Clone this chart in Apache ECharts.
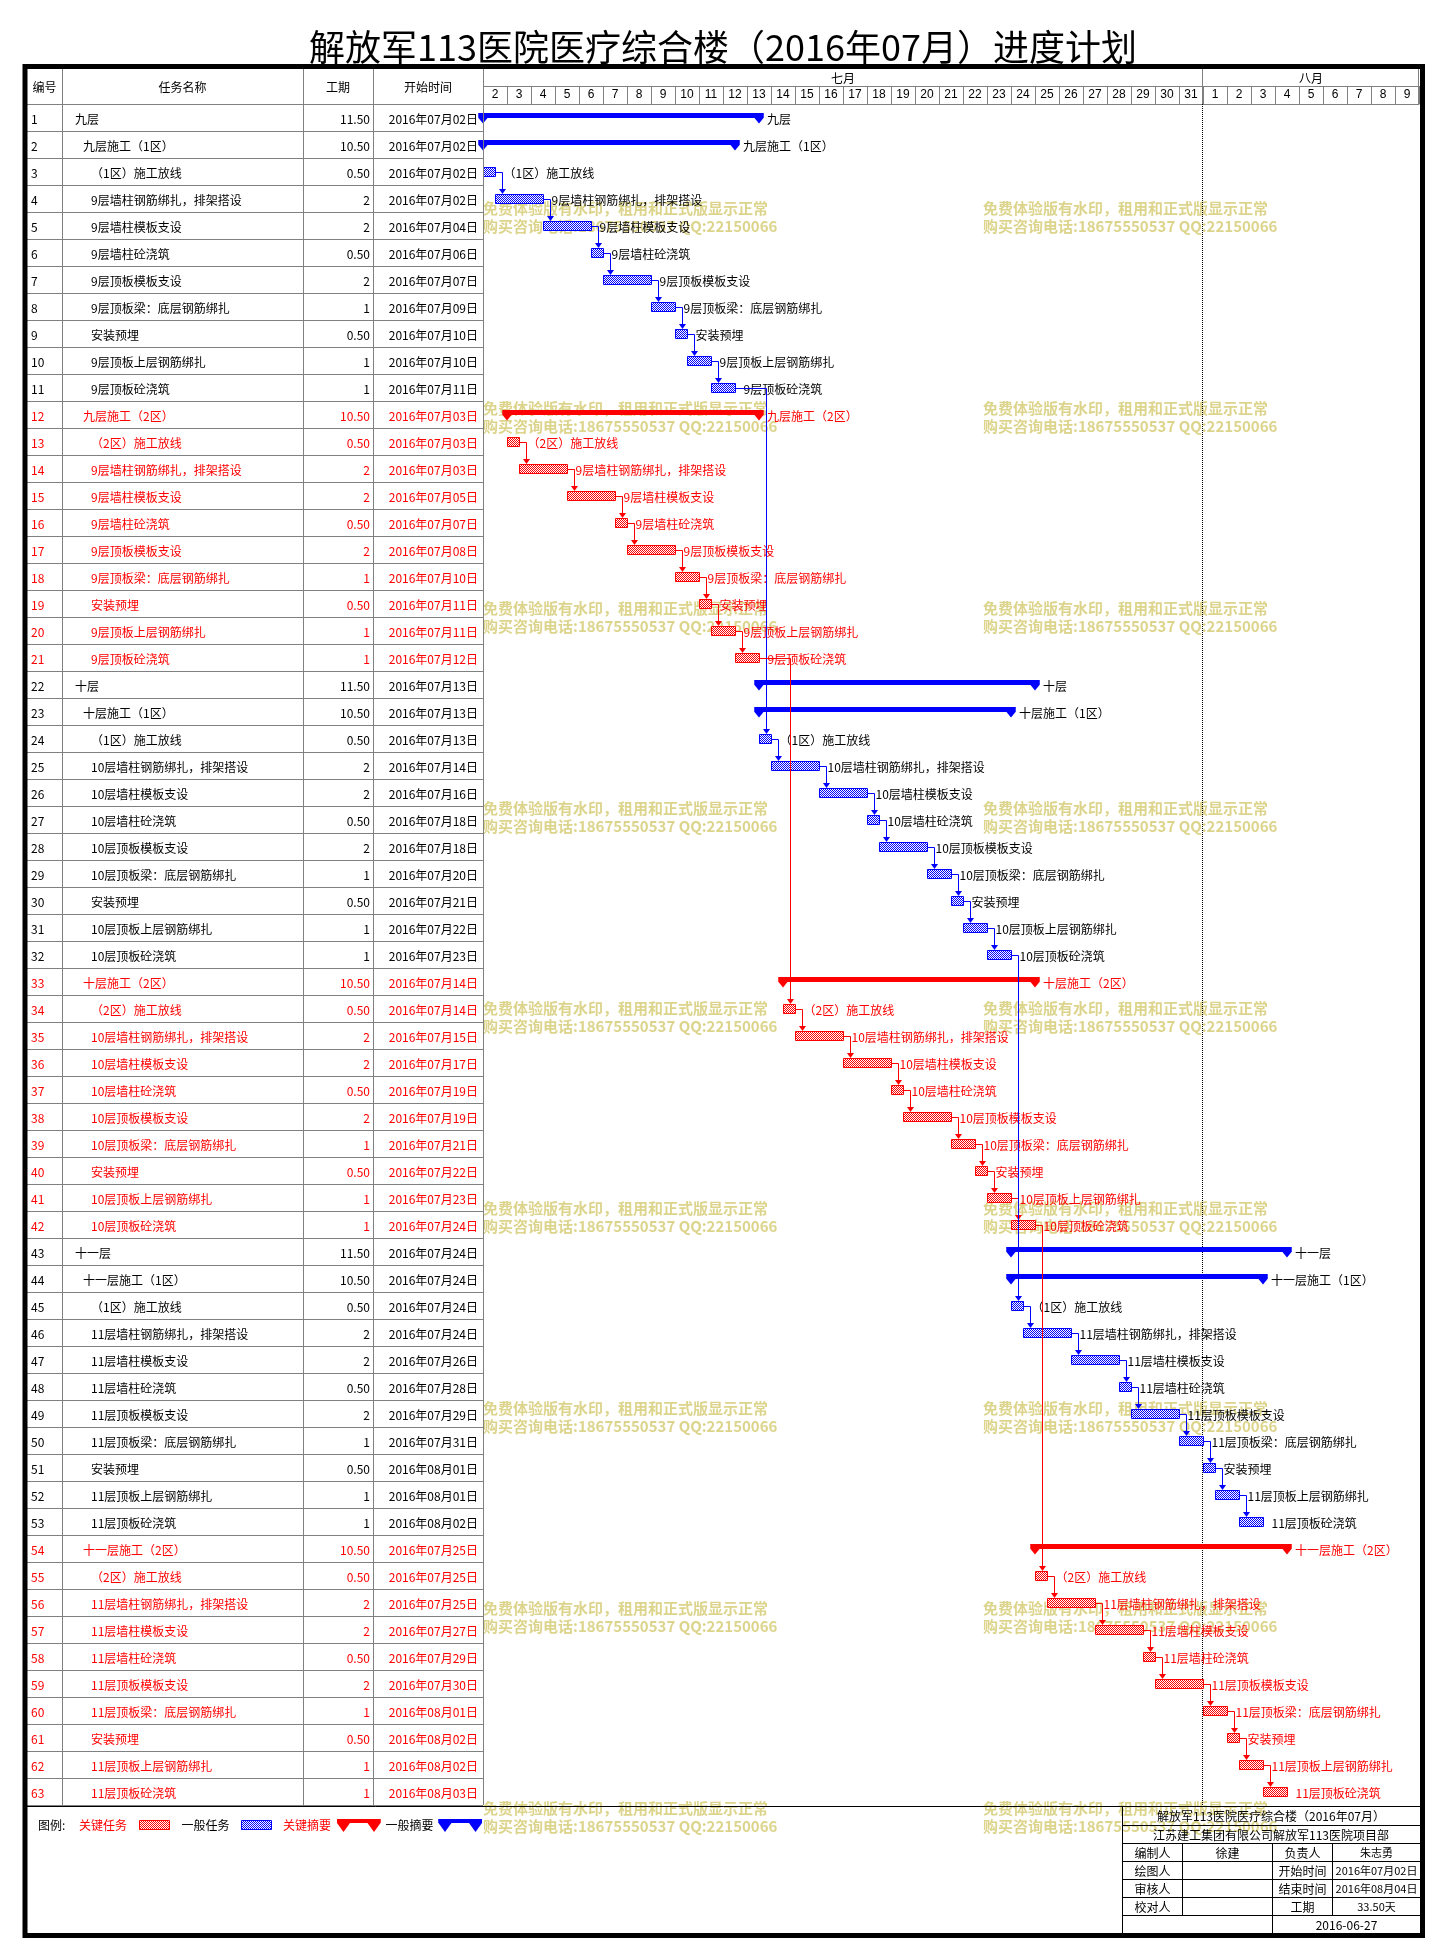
<!DOCTYPE html>
<html><head><meta charset="utf-8">
<script src="https://cdn.jsdelivr.net/npm/echarts@6/dist/echarts.min.js"></script>
<style>html,body{margin:0;padding:0;background:#fff}#c{width:1446px;height:1960px}</style>
</head><body><div id="c"></div>
<script>
// ---------------- DATA ----------------
const taskNames = [
'九层','九层施工（1区）','（1区）施工放线','9层墙柱钢筋绑扎，排架搭设','9层墙柱模板支设','9层墙柱砼浇筑','9层顶板模板支设','9层顶板梁：底层钢筋绑扎','安装预埋','9层顶板上层钢筋绑扎','9层顶板砼浇筑',
'九层施工（2区）','（2区）施工放线','9层墙柱钢筋绑扎，排架搭设','9层墙柱模板支设','9层墙柱砼浇筑','9层顶板模板支设','9层顶板梁：底层钢筋绑扎','安装预埋','9层顶板上层钢筋绑扎','9层顶板砼浇筑',
'十层','十层施工（1区）','（1区）施工放线','10层墙柱钢筋绑扎，排架搭设','10层墙柱模板支设','10层墙柱砼浇筑','10层顶板模板支设','10层顶板梁：底层钢筋绑扎','安装预埋','10层顶板上层钢筋绑扎','10层顶板砼浇筑',
'十层施工（2区）','（2区）施工放线','10层墙柱钢筋绑扎，排架搭设','10层墙柱模板支设','10层墙柱砼浇筑','10层顶板模板支设','10层顶板梁：底层钢筋绑扎','安装预埋','10层顶板上层钢筋绑扎','10层顶板砼浇筑',
'十一层','十一层施工（1区）','（1区）施工放线','11层墙柱钢筋绑扎，排架搭设','11层墙柱模板支设','11层墙柱砼浇筑','11层顶板模板支设','11层顶板梁：底层钢筋绑扎','安装预埋','11层顶板上层钢筋绑扎','11层顶板砼浇筑',
'十一层施工（2区）','（2区）施工放线','11层墙柱钢筋绑扎，排架搭设','11层墙柱模板支设','11层墙柱砼浇筑','11层顶板模板支设','11层顶板梁：底层钢筋绑扎','安装预埋','11层顶板上层钢筋绑扎','11层顶板砼浇筑'
];
// 1 = floor summary, 2 = zone summary, 3 = task
const indentLevels = [
1,2,3,3,3,3,3,3,3,3,3,
2,3,3,3,3,3,3,3,3,3,
1,2,3,3,3,3,3,3,3,3,3,
2,3,3,3,3,3,3,3,3,3,
1,2,3,3,3,3,3,3,3,3,3,
2,3,3,3,3,3,3,3,3,3
];
const durations = [
11.5,10.5,0.5,2,2,0.5,2,1,0.5,1,1,
10.5,0.5,2,2,0.5,2,1,0.5,1,1,
11.5,10.5,0.5,2,2,0.5,2,1,0.5,1,1,
10.5,0.5,2,2,0.5,2,1,0.5,1,1,
11.5,10.5,0.5,2,2,0.5,2,1,0.5,1,1,
10.5,0.5,2,2,0.5,2,1,0.5,1,1
];
const durationLabels = durations.map(d => Number.isInteger(d) ? String(d) : d.toFixed(2));
const startDates = [
'2016年07月02日','2016年07月02日','2016年07月02日','2016年07月02日','2016年07月04日','2016年07月06日','2016年07月07日','2016年07月09日','2016年07月10日','2016年07月10日','2016年07月11日',
'2016年07月03日','2016年07月03日','2016年07月03日','2016年07月05日','2016年07月07日','2016年07月08日','2016年07月10日','2016年07月11日','2016年07月11日','2016年07月12日',
'2016年07月13日','2016年07月13日','2016年07月13日','2016年07月14日','2016年07月16日','2016年07月18日','2016年07月18日','2016年07月20日','2016年07月21日','2016年07月22日','2016年07月23日',
'2016年07月14日','2016年07月14日','2016年07月15日','2016年07月17日','2016年07月19日','2016年07月19日','2016年07月21日','2016年07月22日','2016年07月23日','2016年07月24日',
'2016年07月24日','2016年07月24日','2016年07月24日','2016年07月24日','2016年07月26日','2016年07月28日','2016年07月29日','2016年07月31日','2016年08月01日','2016年08月01日','2016年08月02日',
'2016年07月25日','2016年07月25日','2016年07月25日','2016年07月27日','2016年07月29日','2016年07月30日','2016年08月01日','2016年08月02日','2016年08月02日','2016年08月03日'
];
// start, in days after 2016-07-02 00:00
const startOffsets = [
0,0,0,0.5,2.5,4.5,5,7,8,8.5,9.5,
1,1,1.5,3.5,5.5,6,8,9,9.5,10.5,
11.5,11.5,11.5,12,14,16,16.5,18.5,19.5,20,21,
12.5,12.5,13,15,17,17.5,19.5,20.5,21,22,
22,22,22,22.5,24.5,26.5,27,29,30,30.5,31.5,
23,23,23.5,25.5,27.5,28,30,31,31.5,32.5
];
const isCritical = [
0,0,0,0,0,0,0,0,0,0,0,
1,1,1,1,1,1,1,1,1,1,
0,0,0,0,0,0,0,0,0,0,0,
1,1,1,1,1,1,1,1,1,1,
0,0,0,0,0,0,0,0,0,0,0,
1,1,1,1,1,1,1,1,1,1
];
// predecessor row number (1-based), 0 = none
const predecessors = [
0,0,0,3,4,5,6,7,8,9,10,
0,0,13,14,15,16,17,18,19,20,
0,0,11,24,25,26,27,28,29,30,31,
0,21,34,35,36,37,38,39,40,41,
0,0,32,45,46,47,48,49,50,51,52,
0,42,55,56,57,58,59,60,61,62
];
const dayLabels = ['2','3','4','5','6','7','8','9','10','11','12','13','14','15','16','17','18','19','20','21','22','23','24','25','26','27','28','29','30','31','1','2','3','4','5','6','7','8','9'];
const monthNames = ['七月','八月'];
const monthStart = [0,30];
const monthEnd = [30,39];
const statusLineDay = 30;
const headerTitles = ['编号','任务名称','工期','开始时间'];
const legendNames = ['关键任务','一般任务','关键摘要','一般摘要'];
const infoTitle = '解放军113医院医疗综合楼（2016年07月）';
const infoCompany = '江苏建工集团有限公司解放军113医院项目部';
const infoRows = [['编制人','徐建','负责人','朱志勇'],['绘图人','','开始时间','2016年07月02日'],['审核人','','结束时间','2016年08月04日'],['校对人','','工期','33.50天']];
const infoDate = '2016-06-27';
const mainTitle = '解放军113医院医疗综合楼（2016年07月）进度计划';
const watermark1 = '免费体验版有水印，租用和正式版显示正常';
const watermark2 = '购买咨询电话:18675550537 QQ:22150066';

// ---------------- STYLE / LAYOUT ----------------
const FF = '"Noto Sans CJK SC","Noto Sans",sans-serif';
const F12 = '12px ' + FF;
const F11 = '11px ' + FF;
const RED = '#ff0000', BLUE = '#0000ff', GRAY = '#808080';
const G_LEFT = 483, G_TOP = 104, G_W = 936, G_H = 1701;
const TBL_LEFT = 27, HDR_TOP = 69, BODY_BOTTOM = 1805;

function makePattern(color) {
  const c = document.createElement('canvas');
  c.width = 2; c.height = 2;
  const ctx = c.getContext('2d');
  ctx.fillStyle = '#ffffff'; ctx.fillRect(0,0,2,2);
  ctx.fillStyle = color; ctx.fillRect(0,0,1,1); ctx.fillRect(1,1,1,1);
  return {image: c, repeat: 'repeat'};
}
const redPat = makePattern(RED), bluePat = makePattern(BLUE);

const rowIds = taskNames.map((_, i) => String(i + 1));
const ends = startOffsets.map((s, i) => s + durations[i]);

function rowsWhere(fn) {
  const out = [];
  for (let i = 0; i < taskNames.length; i++) if (fn(i)) out.push([startOffsets[i], ends[i], i, isCritical[i]]);
  return out;
}
const critTasks = rowsWhere(i => indentLevels[i] === 3 && isCritical[i]);
const normTasks = rowsWhere(i => indentLevels[i] === 3 && !isCritical[i]);
const critSums = rowsWhere(i => indentLevels[i] < 3 && isCritical[i]);
const normSums = rowsWhere(i => indentLevels[i] < 3 && !isCritical[i]);
const links = [];
predecessors.forEach((p, i) => { if (p) links.push([ends[p - 1], startOffsets[i], p - 1, i, isCritical[i]]); });

const px = v => Math.round(v) + 0.5;

function renderTask(params, api) {
  const idx = api.value(2), crit = api.value(3);
  const s = api.coord([api.value(0), idx]);
  const e = api.coord([api.value(1), idx]);
  const x0 = px(s[0]), x1 = px(e[0]), yc = Math.round(s[1]);
  return {type: 'group', children: [
    {type: 'rect', shape: {x: x0, y: yc - 4.5, width: x1 - x0, height: 9},
     style: {fill: crit ? redPat : bluePat, stroke: crit ? RED : BLUE, lineWidth: 1}},
    {type: 'text', style: {text: taskNames[idx], x: x1 + 8, y: yc + 1, fill: crit ? RED : '#000', font: F12, align: 'left', verticalAlign: 'middle'}}
  ]};
}
function summaryShape(x0, x1, yTop, barH, tipH, hw, color) {
  const bb = yTop + barH, tip = yTop + tipH;
  return [
    {type: 'rect', shape: {x: x0 - hw, y: yTop, width: x1 - x0 + 2 * hw, height: barH}, style: {fill: color}},
    {type: 'polygon', shape: {points: [[x0 - hw, yTop], [x0 + hw, yTop], [x0 + hw, bb], [x0, tip], [x0 - hw, bb]]}, style: {fill: color}},
    {type: 'polygon', shape: {points: [[x1 - hw, yTop], [x1 + hw, yTop], [x1 + hw, bb], [x1, tip], [x1 - hw, bb]]}, style: {fill: color}}
  ];
}
function renderSummary(params, api) {
  const idx = api.value(2), crit = api.value(3);
  const s = api.coord([api.value(0), idx]);
  const e = api.coord([api.value(1), idx]);
  const yc = Math.round(s[1]);
  const color = crit ? RED : BLUE;
  const kids = summaryShape(s[0], e[0], yc - 5, 5, 10.5, 4.5, color);
  kids.push({type: 'text', style: {text: taskNames[idx], x: e[0] + 8, y: yc + 1, fill: crit ? RED : '#000', font: F12, align: 'left', verticalAlign: 'middle'}});
  return {type: 'group', children: kids};
}
function renderLink(params, api) {
  const p = api.coord([api.value(0), api.value(2)]);
  const q = api.coord([api.value(1), api.value(3)]);
  const color = api.value(4) ? RED : BLUE;
  const dx = px(q[0] + 7);
  const py = px(p[1]);
  const tip = Math.round(q[1]) - 5;
  return {type: 'group', children: [
    {type: 'polyline', shape: {points: [[Math.round(p[0]), py], [dx, py], [dx, tip - 3]]}, style: {stroke: color, lineWidth: 1, fill: null}},
    {type: 'polygon', shape: {points: [[dx - 3.5, tip - 5], [dx + 3.5, tip - 5], [dx, tip]]}, style: {fill: color}}
  ]};
}
function renderStatusLine(params, api) {
  const x = px(api.coord([api.value(0), 0])[0]) - 1;
  const cs = params.coordSys;
  return {type: 'line', shape: {x1: x, y1: cs.y, x2: x, y2: cs.y + cs.height}, style: {stroke: '#000', lineWidth: 1, lineDash: [1, 1]}};
}
const TX = {id: 31, name0: 75, indent: 8, dur: 370, date: 478};
function renderTableRow(params, api) {
  const i = params.dataIndex;
  const c = api.coord([0, i]);
  const yc = Math.round(c[1]);
  const half = api.size([0, 1])[1] / 2;
  const col = isCritical[i] ? RED : '#000';
  const yb = px(c[1] + half);
  return {type: 'group', children: [
    {type: 'text', style: {text: rowIds[i], x: TX.id, y: yc + 1, fill: col, font: F12, align: 'left', verticalAlign: 'middle'}},
    {type: 'text', style: {text: taskNames[i], x: TX.name0 + TX.indent * (indentLevels[i] - 1), y: yc + 1, fill: col, font: F12, align: 'left', verticalAlign: 'middle'}},
    {type: 'text', style: {text: durationLabels[i], x: TX.dur, y: yc + 1, fill: col, font: F12, align: 'right', verticalAlign: 'middle'}},
    {type: 'text', style: {text: startDates[i], x: TX.date, y: yc + 1, fill: col, font: F12, align: 'right', verticalAlign: 'middle'}},
    {type: 'line', shape: {x1: TBL_LEFT, y1: yb, x2: params.coordSys.x, y2: yb}, style: {stroke: GRAY, lineWidth: 1}}
  ]};
}
function renderMonth(params, api) {
  const i = params.dataIndex;
  const x0 = api.coord([api.value(0), 0])[0];
  const x1 = api.coord([api.value(1), 0])[0];
  const top = params.coordSys.y;
  return {type: 'group', children: [
    {type: 'text', style: {text: monthNames[i], x: (x0 + x1) / 2, y: top - 26, fill: '#000', font: F12, align: 'center', verticalAlign: 'middle'}},
    {type: 'line', shape: {x1: x0, y1: top - 17.5, x2: x1, y2: top - 17.5}, style: {stroke: GRAY, lineWidth: 1}},
    {type: 'line', shape: {x1: px(x1) - 1, y1: HDR_TOP, x2: px(x1) - 1, y2: top}, style: {stroke: GRAY, lineWidth: 1}}
  ]};
}

// ---------------- GRAPHIC (frame, header, legend, info box, watermark) ----------------
const graphics = [];
for (let k = 0; k < 9; k++) {
  [483, 983].forEach(x => {
    graphics.push({type: 'text', z: 0, silent: true, style: {text: watermark1, x: x, y: 208 + 200 * k, fill: '#ddd48c', font: 'bold 15px ' + FF, align: 'left', verticalAlign: 'middle'}});
    graphics.push({type: 'text', z: 0, silent: true, style: {text: watermark2, x: x, y: 226 + 200 * k, fill: '#ddd48c', font: 'bold 15px ' + FF, align: 'left', verticalAlign: 'middle'}});
  });
}
const hdrX = [44.5, 182.5, 338, 428];
headerTitles.forEach((t, i) => graphics.push({type: 'text', z: 5, style: {text: t, x: hdrX[i], y: 87, fill: '#000', font: F12, align: 'center', verticalAlign: 'middle'}}));
[62.5, 303.5, 373.5, 483.5].forEach(x => graphics.push({type: 'line', z: 5, shape: {x1: x, y1: HDR_TOP, x2: x, y2: BODY_BOTTOM}, style: {stroke: GRAY, lineWidth: 1}}));
graphics.push({type: 'line', z: 5, shape: {x1: TBL_LEFT, y1: 104.5, x2: G_LEFT, y2: 104.5}, style: {stroke: GRAY, lineWidth: 1}});
graphics.push({type: 'line', z: 6, shape: {x1: TBL_LEFT, y1: 1806.5, x2: 1420, y2: 1806.5}, style: {stroke: '#000', lineWidth: 1}});
const LY = 1825;
graphics.push({type: 'text', z: 5, style: {text: '图例:', x: 38, y: LY, fill: '#000', font: F12, align: 'left', verticalAlign: 'middle'}});
const lgText = [79, 181.5, 283, 385.5];
const lgColor = [RED, '#000', RED, '#000'];
legendNames.forEach((n, i) => graphics.push({type: 'text', z: 5, style: {text: n, x: lgText[i], y: LY, fill: lgColor[i], font: F12, align: 'left', verticalAlign: 'middle'}}));
graphics.push({type: 'rect', z: 5, shape: {x: 139.5, y: 1820.5, width: 30, height: 9}, style: {fill: redPat, stroke: RED, lineWidth: 1}});
graphics.push({type: 'rect', z: 5, shape: {x: 241.5, y: 1820.5, width: 30, height: 9}, style: {fill: bluePat, stroke: BLUE, lineWidth: 1}});
summaryShape(343.5, 374, 1819, 4, 13, 6.5, RED).forEach(g => { g.z = 5; graphics.push(g); });
summaryShape(445, 475.5, 1819, 4, 13, 6.5, BLUE).forEach(g => { g.z = 5; graphics.push(g); });
const IB = {x0: 1122.5, x1: 1420, ys: [1806.5, 1825.5, 1843.5, 1861.5, 1879.5, 1897.5, 1915.5, 1934], cols: [1182.5, 1272.5, 1332.5]};
IB.ys.slice(1, 7).forEach(y => graphics.push({type: 'line', z: 6, shape: {x1: IB.x0, y1: y, x2: IB.x1, y2: y}, style: {stroke: '#000', lineWidth: 1}}));
graphics.push({type: 'line', z: 6, shape: {x1: IB.x0, y1: 1806, x2: IB.x0, y2: 1934}, style: {stroke: '#000', lineWidth: 1}});
graphics.push({type: 'line', z: 6, shape: {x1: IB.cols[0], y1: 1843.5, x2: IB.cols[0], y2: 1915.5}, style: {stroke: '#000', lineWidth: 1}});
graphics.push({type: 'line', z: 6, shape: {x1: IB.cols[2], y1: 1843.5, x2: IB.cols[2], y2: 1915.5}, style: {stroke: '#000', lineWidth: 1}});
graphics.push({type: 'line', z: 6, shape: {x1: IB.cols[1], y1: 1843.5, x2: IB.cols[1], y2: 1934}, style: {stroke: '#000', lineWidth: 1}});
const ibText = (t, x, y, f) => graphics.push({type: 'text', z: 6, style: {text: t, x: x, y: y, fill: '#000', font: f || F12, align: 'center', verticalAlign: 'middle'}});
ibText(infoTitle, 1271, 1816.5);
ibText(infoCompany, 1271, 1835);
const ibColX = [1152.5, 1227.5, 1302.5, 1376.5];
infoRows.forEach((r, k) => r.forEach((t, j) => { if (t) ibText(t, ibColX[j], 1853 + 18 * k, j === 3 ? F11 : F12); }));
ibText(infoDate, 1346.5, 1925);
graphics.push({type: 'rect', z: 100, shape: {x: 25, y: 66.5, width: 1397.5, height: 1869}, style: {fill: null, stroke: '#000', lineWidth: 5}});

// ---------------- OPTION ----------------
const chart = echarts.init(document.getElementById('c'), null, {renderer: 'canvas', width: 1446, height: 1960});
const option = {
  animation: false,
  backgroundColor: '#fff',
  title: {text: mainTitle, left: 'center', top: 24, textStyle: {fontSize: 36, fontWeight: 'normal', color: '#000', fontFamily: FF}},
  grid: {left: G_LEFT, top: G_TOP, width: G_W, height: G_H, containLabel: false},
  xAxis: [
    {type: 'value', min: 0, max: dayLabels.length, show: false},
    {type: 'category', data: dayLabels, position: 'top', boundaryGap: true,
     axisLine: {show: true, lineStyle: {color: GRAY, width: 1}},
     axisTick: {show: true, interval: 0, length: 18, lineStyle: {color: GRAY, width: 1}},
     axisLabel: {interval: 0, margin: 9, color: '#000', fontSize: 12, fontFamily: '"Liberation Sans",Arial,sans-serif', verticalAlign: 'middle'},
     splitLine: {show: false}}
  ],
  yAxis: {type: 'category', data: rowIds, inverse: true, show: false},
  graphic: graphics,
  series: [
    {type: 'custom', name: 'table', clip: false, renderItem: renderTableRow, encode: {x: 0, y: 1}, data: taskNames.map((_, i) => [0, i]), z: 3},
    {type: 'custom', name: 'months', clip: false, renderItem: renderMonth, encode: {x: [0, 1], y: 2}, data: monthNames.map((_, i) => [monthStart[i], monthEnd[i], 0]), z: 3},
    {type: 'custom', name: 'status', clip: false, renderItem: renderStatusLine, encode: {x: 0, y: 1}, data: [[statusLineDay, 0]], z: 3},
    {type: 'custom', name: '一般摘要', clip: false, renderItem: renderSummary, encode: {x: [0, 1], y: 2}, data: normSums, z: 4},
    {type: 'custom', name: '关键摘要', clip: false, renderItem: renderSummary, encode: {x: [0, 1], y: 2}, data: critSums, z: 4},
    {type: 'custom', name: '一般任务', clip: false, renderItem: renderTask, encode: {x: [0, 1], y: 2}, data: normTasks, z: 4},
    {type: 'custom', name: '关键任务', clip: false, renderItem: renderTask, encode: {x: [0, 1], y: 2}, data: critTasks, z: 4},
    {type: 'custom', name: 'links', clip: false, renderItem: renderLink, encode: {x: [0, 1], y: [2, 3]}, data: links, z: 5}
  ]
};
chart.setOption(option);
</script>
</body></html>
